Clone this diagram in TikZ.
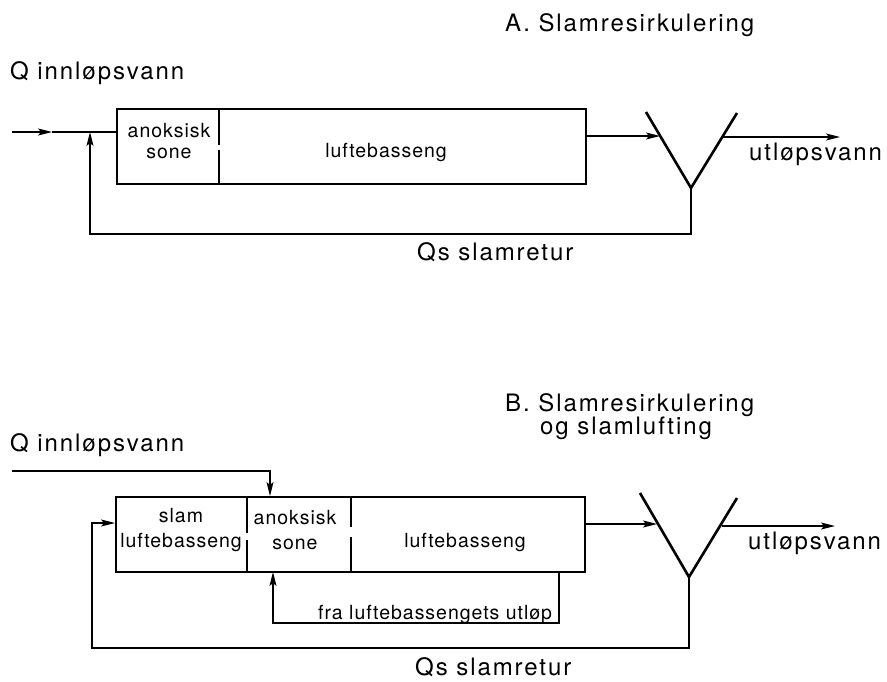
\documentclass[tikz,border=0pt]{standalone}
\usepackage{fontspec}
\setmainfont{TeX Gyre Heros}
\usetikzlibrary{arrows.meta}
\newfontfamily\bigfont{TeX Gyre Heros}[LetterSpace=8]
\newfontfamily\smallfont{TeX Gyre Heros}[LetterSpace=5]
\begin{document}
\begin{tikzpicture}[x=1pt,y=-1pt,
  box/.style={draw, line width=2pt, inner sep=0pt},
  flow/.style={line width=1.2pt},
  arr/.style={-{Stealth[length=14pt,width=7pt,inset=3pt]}},
  vline/.style={line width=2.6pt},
  big/.style={font=\bigfont\fontsize{24}{26}\selectfont, inner sep=0pt},
  small/.style={font=\smallfont\fontsize{19.5}{21}\selectfont, inner sep=0pt, align=center},
  smallB/.style={font=\smallfont\fontsize{19.5}{25}\selectfont, inner sep=0pt, align=center}]
\useasboundingbox (0,0) rectangle (887,681);

% ---------- A ----------
\node[big, anchor=west] (titA) at (505,25) {A. Slamresirkulering};
\node[big, anchor=west] (inlabA) at (10,73) {Q innløpsvann};
\node[box, minimum width=469pt, minimum height=75pt] (boxA) at (351.5,146.5) {};
\draw[line width=2pt] (219,109) -- (219,145) (219,150) -- (219,184);
\node[small] (anoxA) at (169,141) {anoksisk\\sone};
\node[small] (aerA) at (386,152) {luftebasseng};
\node[big, anchor=west] (outlabA) at (749,154) {utløpsvann};
\node[big, anchor=west] (retlabA) at (417,252) {Qs slamretur};

\coordinate (inA) at (12,132);
\coordinate (midA) at (52,132);
\coordinate (joinA) at (90,132);
\coordinate (vAl) at (646,112);
\coordinate (vAr) at (737,113);
\coordinate (vAb) at (691,188);
\coordinate (vAin) at (660,136);
\coordinate (vAout) at (723,137);
\coordinate (outA) at (840,137);
\draw[vline] (vAl) -- (vAb) -- (vAr);
\draw[flow,arr] (inA) -- (midA);
\draw[flow] (midA) -- (boxA.west |- inA);
\draw[flow,arr] (boxA.east |- vAin) -- (vAin);
\draw[flow,arr] (vAout) -- (outA);
\draw[flow,arr] (vAb) -- (691,234) -- (90,234) -- (joinA);

% ---------- B ----------
\node[big, anchor=west] (titB) at (505,405) {B. Slamresirkulering};
\node[big, anchor=west] (titB2) at (540,428) {og slamlufting};
\node[big, anchor=west] (inlabB) at (10,445) {Q innløpsvann};
\node[box, minimum width=469pt, minimum height=75pt] (boxB) at (350.5,534.5) {};
\draw[line width=2pt] (247,497) -- (247,533) (247,540) -- (247,572);
\draw[line width=2pt] (351,497) -- (351,527) (351,537) -- (351,572);
\node[smallB] (sludgeB) at (181,530) {slam\\luftebasseng};
\node[smallB] (anoxB) at (295,530) {anoksisk\\sone};
\node[small] (aerB) at (465,542) {luftebasseng};
\node[small, anchor=west] (fraB) at (318,614) {fra luftebassengets utløp};
\node[big, anchor=west] (outlabB) at (748,543) {utløpsvann};
\node[big, anchor=west] (retlabB) at (415,667) {Qs slamretur};

\coordinate (inB) at (12,471);
\coordinate (inBc) at (270,471);
\coordinate (vBl) at (640,493);
\coordinate (vBr) at (737,498);
\coordinate (vBb) at (689,577);
\coordinate (vBin) at (657,524);
\coordinate (vBout) at (722,526);
\coordinate (outB) at (835,526);
\draw[vline] (vBl) -- (vBb) -- (vBr);
\draw[flow,arr] (inB) -- (inBc) -- (inBc |- boxB.north);
\draw[flow,arr] (boxB.east |- vBin) -- (vBin);
\draw[flow,arr] (vBout) -- (outB);
\draw[flow,arr] (vBb) -- (689,648) -- (92,648) -- (92,523) -- (boxB.west |- 0,523);
\draw[flow,arr] (559,572) -- (559,623) -- (273,623) -- (273,572);
\end{tikzpicture}
\end{document}
